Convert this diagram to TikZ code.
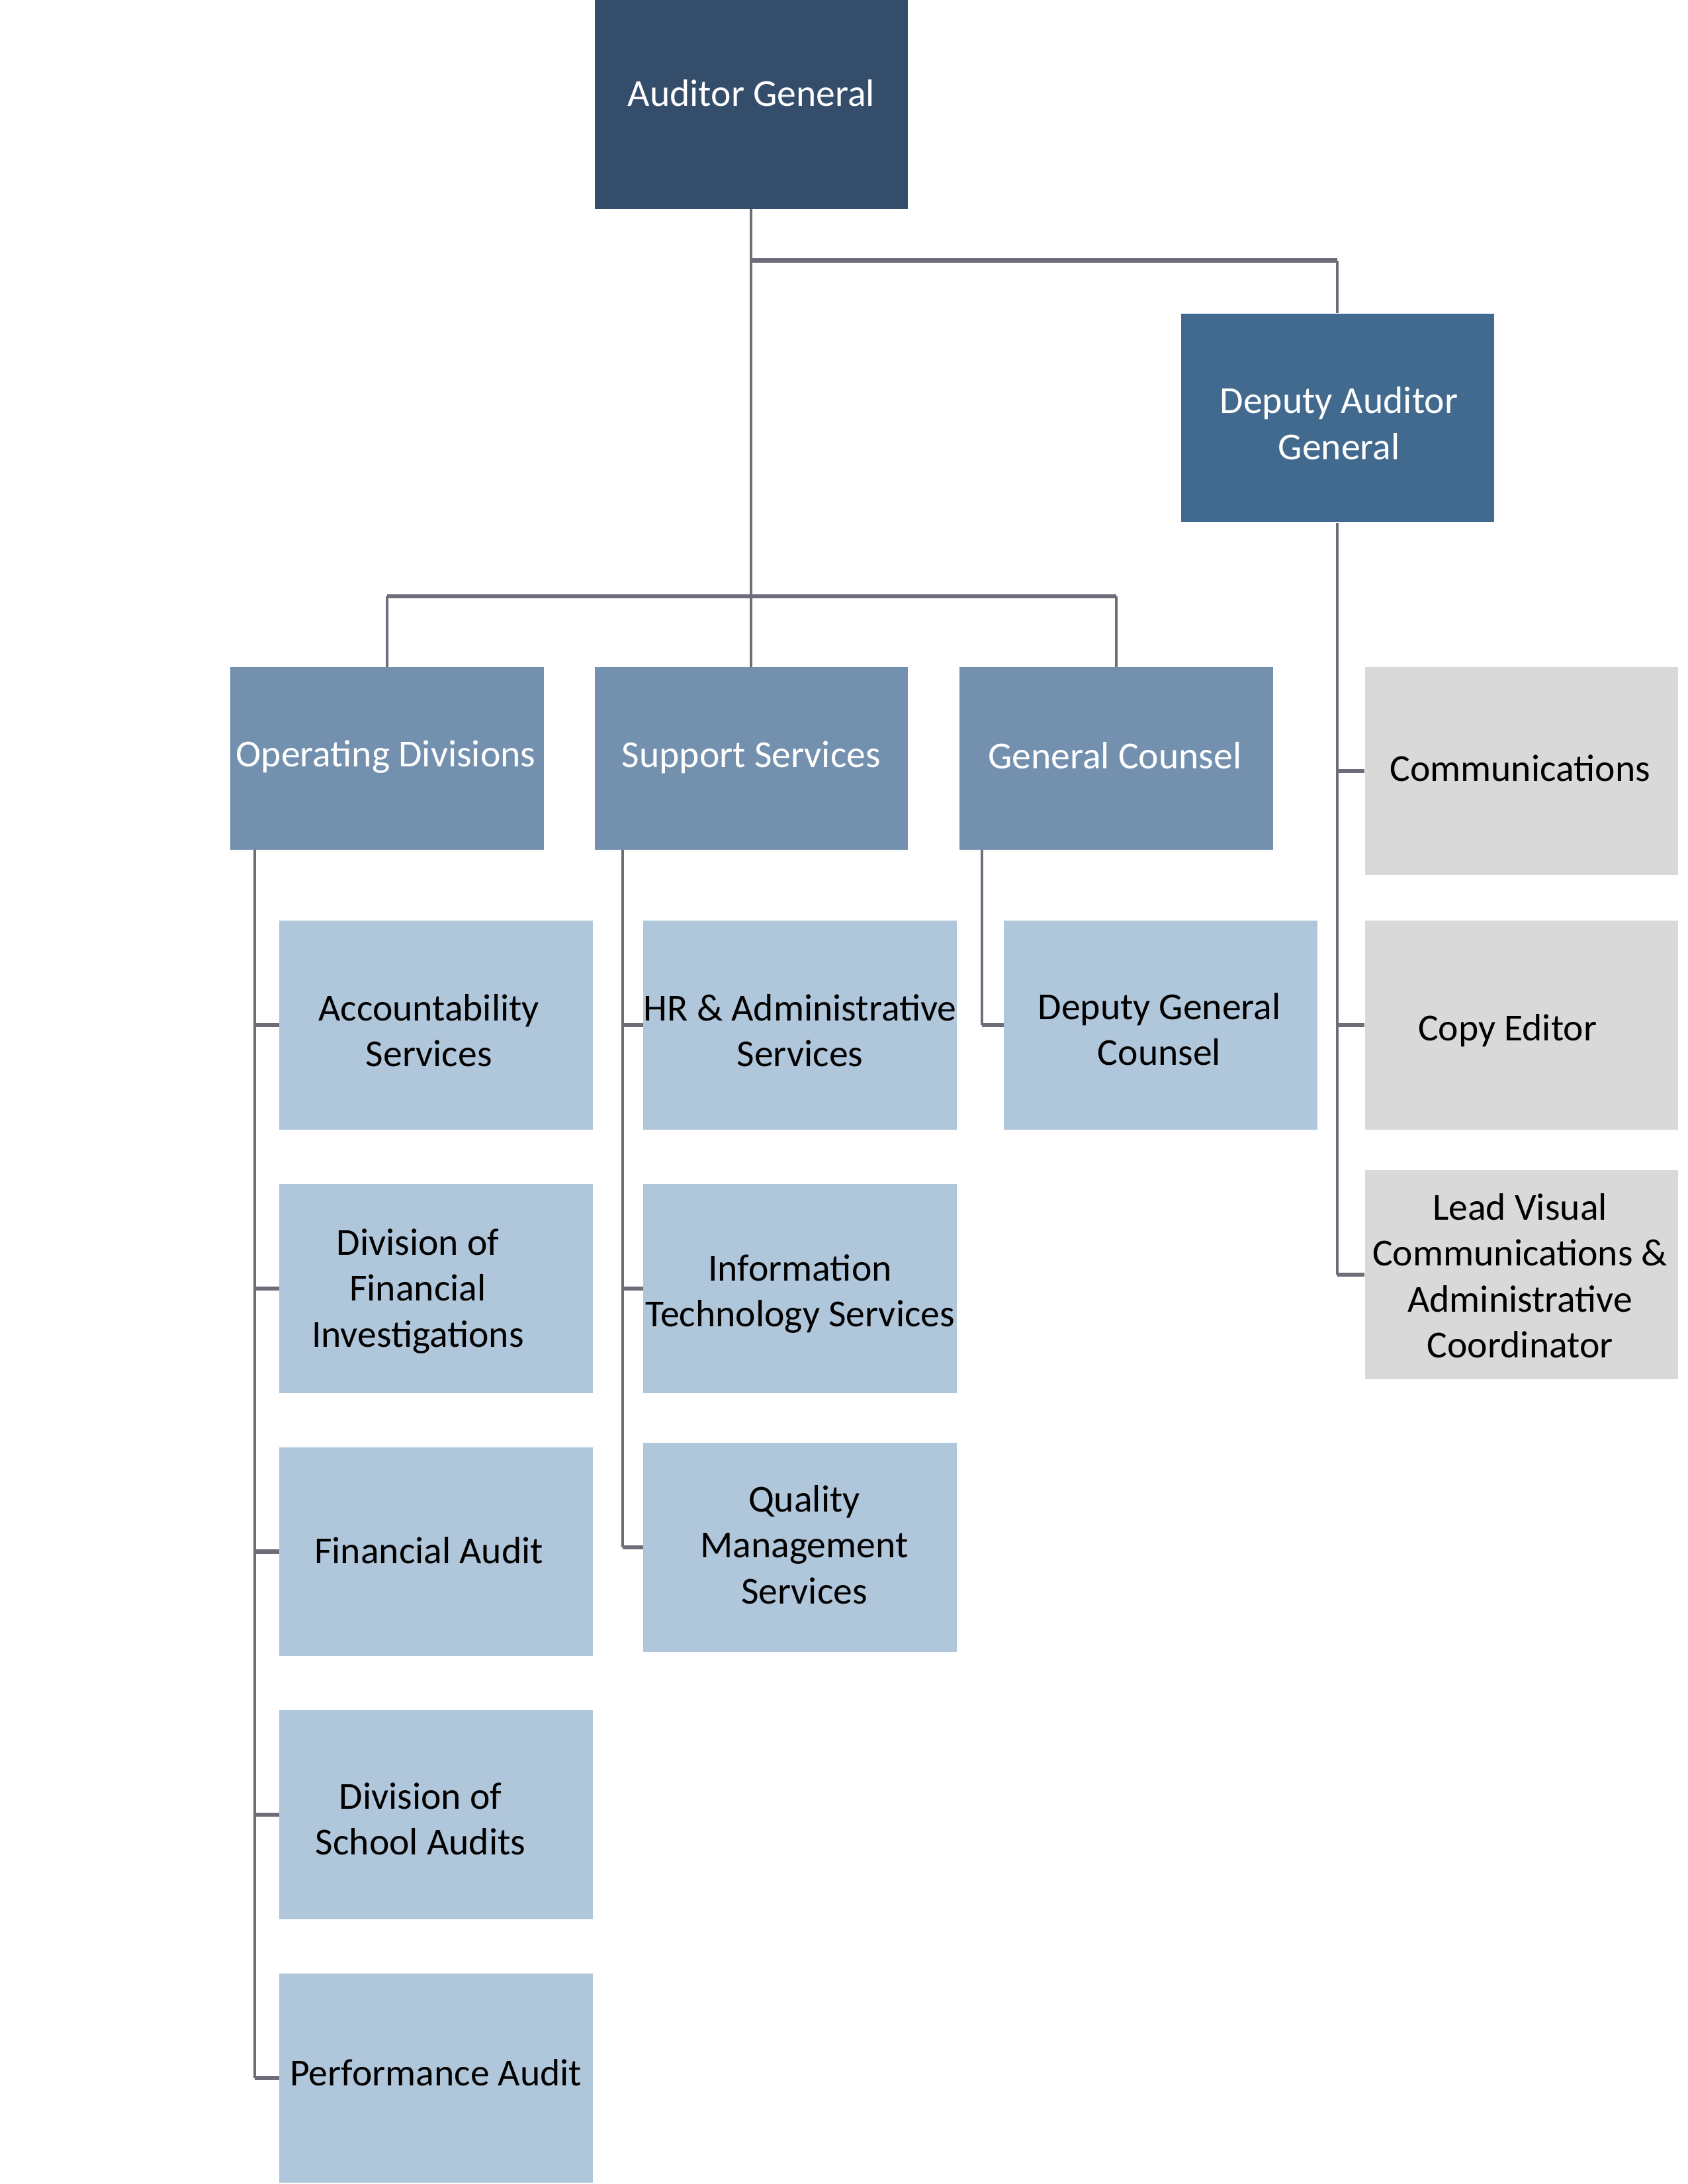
\documentclass[tikz,border=0pt]{standalone}
\usepackage{fontspec}
\usetikzlibrary{calc}
\setmainfont{Carlito}
\definecolor{agcol}{HTML}{344D6B}
\definecolor{dagcol}{HTML}{416A8E}
\definecolor{lvtwo}{HTML}{7391AF}
\definecolor{childcol}{HTML}{B0C6DA}
\definecolor{greycol}{HTML}{D9D9D9}
\definecolor{linecol}{HTML}{6D6D7A}
\begin{document}
\begin{tikzpicture}[x=1pt,y=-1pt,
  box/.style={rectangle, inner sep=0pt},
  txt/.style={inner sep=0pt, align=center, font=\fontsize{27.4}{33}\selectfont},
  wtxt/.style={txt, text=white},
  btxt/.style={txt, text=black},
  topbox/.style={box, fill=agcol, minimum width=225pt, minimum height=150pt},
  depbox/.style={box, fill=dagcol, minimum width=225pt, minimum height=150pt},
  lvbox/.style={box, fill=lvtwo, minimum width=225pt, minimum height=131pt},
  childbox/.style={box, fill=childcol, minimum width=225pt, minimum height=150pt},
  greybox/.style={box, fill=greycol, minimum width=225pt, minimum height=150pt},
  vline/.style={draw=linecol, line width=1.9pt},
  hline/.style={draw=linecol, line width=3pt}]
\useasboundingbox[fill=white] (0,0) rectangle (1212,1568);

% top level
\node[topbox] (ag) at (539.5,75) {};
\node[wtxt] (ag-t) at ($(ag)+(0,-8)$) {Auditor General};
\node[depbox] (dag) at (960.5,300) {};
\node[wtxt] (dag-t) at ($(dag)+(1,4)$) {Deputy Auditor\\General};

% level two
\node[lvbox] (od) at (278,544.5) {};
\node[wtxt] (od-t) at ($(od)+(-1,-1)$) {Operating Divisions};
\node[lvbox] (ss) at (539.5,544.5) {};
\node[wtxt] (ss-t) at ($(ss)+(0,-1)$) {Support Services};
\node[lvbox] (gc) at (801.5,544.5) {};
\node[wtxt] (gc-t) at ($(gc)+(-1,-2)$) {General Counsel};

% operating divisions children
\node[childbox] (acc) at (313,736) {};
\node[btxt] (acc-t) at ($(acc)+(-5,4)$) {Accountability\\Services};
\node[childbox] (dfi) at (313,925) {};
\node[btxt] (dfi-t) at ($(dfi)+(-13,2)$) {Division of\\Financial\\Investigations};
\node[childbox] (fa) at (313,1114) {};
\node[btxt] (fa-t) at ($(fa)+(-5,-1)$) {Financial Audit};
\node[childbox] (dsa) at (313,1303) {};
\node[btxt] (dsa-t) at ($(dsa)+(-11,3)$) {Division of\\School Audits};
\node[childbox] (pa) at (313,1492) {};
\node[btxt] (pa-t) at ($(pa)+(0,-4)$) {Performance Audit};

% support services children
\node[childbox] (hr) at (574.5,736) {};
\node[btxt] (hr-t) at ($(hr)+(0,4)$) {HR \& Administrative\\Services};
\node[childbox] (its) at (574.5,925) {};
\node[btxt] (its-t) at ($(its)+(0,4)$) {Information\\Technology Services};
\node[childbox] (qms) at (574.5,1111) {};
\node[btxt] (qms-t) at ($(qms)+(3,-2)$) {Quality\\Management\\Services};

% general counsel child
\node[childbox] (dgc) at (833.5,736) {};
\node[btxt] (dgc-t) at ($(dgc)+(-1,3)$) {Deputy General\\Counsel};

% deputy auditor general children
\node[greybox, minimum height=149pt] (com) at (1092.5,553.5) {};
\node[btxt] (com-t) at ($(com)+(-1,-2)$) {Communications};
\node[greybox] (ce) at (1092.5,736) {};
\node[btxt] (ce-t) at ($(ce)+(-10,4)$) {Copy Editor};
\node[greybox] (lv) at (1092.5,915) {};
\node[btxt] (lv-t) at ($(lv)+(-1,1)$) {Lead Visual\\Communications \&\\Administrative\\Coordinator};

% connectors from auditor general
\coordinate (jtop) at (539.5,187);
\coordinate (jmid) at (539.5,428);
\draw[vline] (ag.south) -- (ss.north);
\draw[hline] (jtop) -- (dag.north |- jtop);
\draw[vline] (dag.north |- jtop) -- (dag.north);
\draw[hline] (od.north |- jmid) -- (gc.north |- jmid);
\draw[vline] (od.north |- jmid) -- (od.north);
\draw[vline] (gc.north |- jmid) -- (gc.north);

% operating divisions spine
\coordinate (odsp) at (183,610);
\draw[vline] (odsp) -- (odsp |- pa.west);
\foreach \n in {acc,dfi,fa,dsa,pa}{
  \draw[hline] (odsp |- \n.west) -- (\n.west);
}

% support services spine
\coordinate (sssp) at (447,610);
\draw[vline] (sssp) -- (sssp |- qms.west);
\foreach \n in {hr,its,qms}{
  \draw[hline] (sssp |- \n.west) -- (\n.west);
}

% general counsel spine
\coordinate (gcsp) at (705,610);
\draw[vline] (gcsp) -- (gcsp |- dgc.west);
\draw[hline] (gcsp |- dgc.west) -- (dgc.west);

% deputy auditor general spine
\draw[vline] (dag.south) -- (dag.south |- lv.west);
\foreach \n in {com,ce,lv}{
  \draw[hline] (dag.south |- \n.west) -- (\n.west);
}
\end{tikzpicture}
\end{document}
